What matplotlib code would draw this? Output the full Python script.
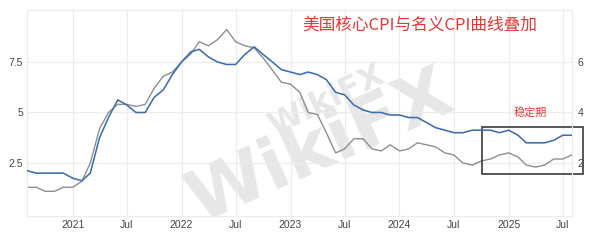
import numpy as np
import pandas as pd
import matplotlib
matplotlib.use("Agg")
import matplotlib.pyplot as plt
from matplotlib.patches import Rectangle
import matplotlib.dates as mdates

plt.rcParams['font.family'] = ['Liberation Sans', 'Noto Sans CJK SC', 'DejaVu Sans']

# monthly, Aug 2020 .. Aug 2025
months = pd.date_range('2020-08-01', periods=61, freq='MS')

# core CPI (right axis, blue)
core_cpi = [1.7, 1.6, 1.6, 1.6, 1.6,
            1.4, 1.3, 1.6, 3.0, 3.8, 4.5, 4.3, 4.0, 4.0, 4.6, 4.9, 5.5,
            6.0, 6.4, 6.5, 6.2, 6.0, 5.9, 5.9, 6.3, 6.6, 6.3, 6.0, 5.7,
            5.6, 5.5, 5.6, 5.5, 5.3, 4.8, 4.7, 4.3, 4.1, 4.0, 4.0, 3.9,
            3.9, 3.8, 3.8, 3.6, 3.4, 3.3, 3.2, 3.2, 3.3, 3.3, 3.3, 3.2,
            3.3, 3.1, 2.8, 2.8, 2.8, 2.9, 3.1, 3.1]

# headline CPI (left axis, grey)
headline_cpi = [1.3, 1.3, 1.1, 1.1, 1.3,
                1.3, 1.6, 2.5, 4.2, 5.0, 5.4, 5.4, 5.3, 5.4, 6.2, 6.8, 7.0,
                7.5, 7.9, 8.5, 8.3, 8.6, 9.1, 8.5, 8.3, 8.2, 7.7, 7.1, 6.5,
                6.4, 6.0, 5.0, 4.9, 4.0, 3.0, 3.2, 3.7, 3.7, 3.2, 3.1, 3.4,
                3.1, 3.2, 3.5, 3.4, 3.3, 3.0, 2.9, 2.5, 2.4, 2.6, 2.7, 2.9,
                3.0, 2.8, 2.4, 2.3, 2.4, 2.7, 2.7, 2.9]

x_ticks = pd.to_datetime(['2021-01-01', '2021-07-01', '2022-01-01', '2022-07-01',
                          '2023-01-01', '2023-07-01', '2024-01-01', '2024-07-01',
                          '2025-01-01', '2025-07-01'])
x_labels = ['2021', 'Jul', '2022', 'Jul', '2023', 'Jul', '2024', 'Jul', '2025', 'Jul']
left_ticks = [2.5, 5, 7.5]
right_ticks = [2, 4, 6]

grid_c = '#ececec'
fig = plt.figure(figsize=(6.01, 2.40), dpi=100)
ax = fig.add_axes([27/601, 24/240, 545/601, 206/240])
ax2 = ax.twinx()

ax.plot(months, headline_cpi, color='#8e8e8e', lw=1.0, zorder=3)
ax2.plot(months, core_cpi, color='#3d6fab', lw=1.15, zorder=3)

ax.set_xlim(pd.Timestamp('2020-08-01'), pd.Timestamp('2025-08-01'))
ax.set_ylim(-0.12, 10.07)
ax2.set_ylim(-0.12*0.8, 10.07*0.8)

ax.set_xticks(x_ticks)
ax.set_xticklabels(x_labels)
ax.set_yticks(left_ticks)
ax.set_yticklabels(['2.5', '5', '7.5'])
ax2.set_yticks(right_ticks)
ax2.set_yticklabels([str(v) for v in right_ticks])

for a in (ax, ax2):
    a.tick_params(length=0, labelsize=7.5, labelcolor='#444444')
    for s in a.spines.values():
        s.set_color(grid_c)
        s.set_linewidth(0.8)
ax.tick_params(axis='x', pad=3)
ax.tick_params(axis='y', pad=3)
ax2.tick_params(axis='y', pad=4)
ax.spines['bottom'].set_color('#dddddd')

ax.grid(True, color=grid_c, lw=0.8, zorder=0)
ax.set_axisbelow(True)

# faint watermark
ax.text(0.54, 0.33, 'WikiFX', transform=ax.transAxes, fontsize=52, fontweight='bold',
        color='#e7e7e7', rotation=24, ha='center', va='center', zorder=0.5,
        family='DejaVu Sans')
ax.text(0.55, 0.56, 'WikiFX', transform=ax.transAxes, fontsize=23, fontweight='bold',
        color='#e7e7e7', rotation=26, ha='center', va='center', zorder=0.5,
        family='DejaVu Sans')

# highlight box for the stable period
x0 = mdates.date2num(pd.Timestamp('2024-10-04'))
x1 = mdates.date2num(pd.Timestamp('2025-09-07'))
ax.add_patch(Rectangle((x0, 1.96), x1 - x0, 4.28 - 1.96, fill=False,
                       edgecolor='#3a3a3a', lw=1.2, clip_on=False, zorder=4))
ax.text(pd.Timestamp('2025-03-15'), 5.0, '稳定期', color='#e53935', fontsize=8,
        ha='center', va='center', family=['Noto Sans CJK SC'])

fig.text(302/601, 1 - 25/240, '美国核心CPI与名义CPI曲线叠加', color='#e53935',
         fontsize=12, ha='left', va='center', family=['Noto Sans CJK SC'])

fig.savefig('out.png', dpi=100)
